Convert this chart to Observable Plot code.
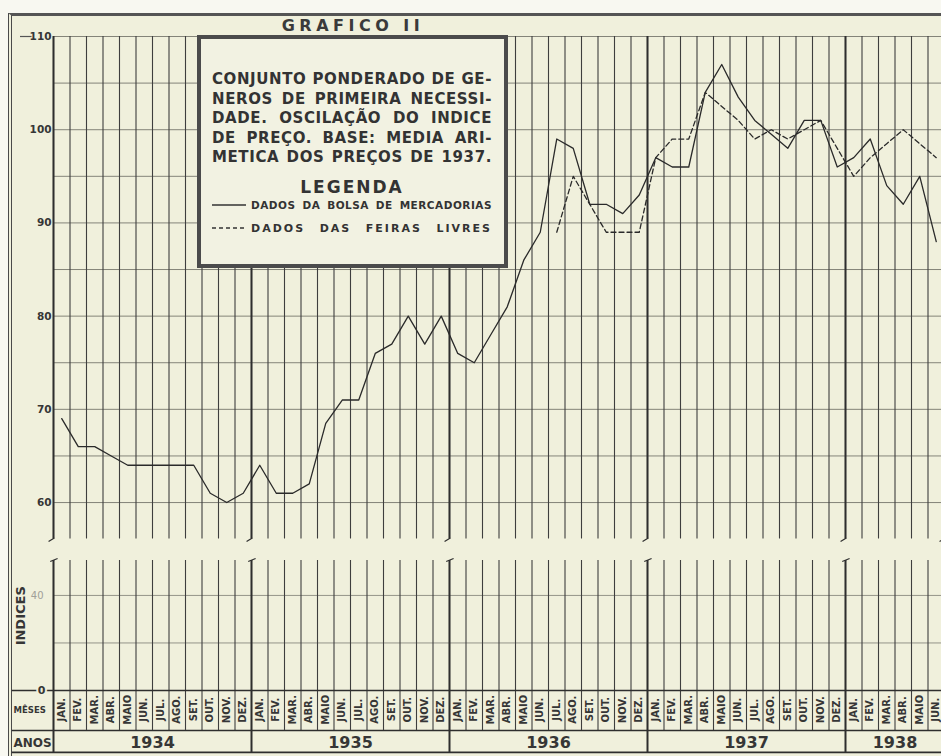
<!DOCTYPE html>
<html><head><meta charset="utf-8">
<script src="https://cdn.jsdelivr.net/npm/d3@7"></script>
<script src="https://cdn.jsdelivr.net/npm/@observablehq/plot@0.6"></script>
<style>
html,body{margin:0;padding:0;background:#f7f7ef;overflow:hidden;}
#wrap{position:relative;width:941px;height:756px;overflow:hidden;background:#f8f8f1;font-family:"DejaVu Sans",sans-serif;}
#frame{position:absolute;left:8px;top:13px;width:933px;height:743px;background:#f0f0dc;border-left:4px double #4a4a4a;border-top:3px solid #555;box-sizing:border-box;}
#chart{position:absolute;left:0;top:0;}
#chart svg{display:block;}
#title{position:absolute;left:253px;top:16px;width:200px;text-align:center;font:bold 16px "DejaVu Sans";letter-spacing:4.5px;color:#3a3a3a;line-height:20px;}
#legend{position:absolute;left:197px;top:35px;width:311px;height:233px;box-sizing:border-box;border:4px solid #4b4b4b;background:#f2f2e2;padding:31px 12px 0 11px;color:#333;}
#legend .p{font:bold 15px "DejaVu Sans";letter-spacing:0.6px;line-height:19.5px;height:19.5px;text-align:justify;text-align-last:justify;white-space:nowrap;}
#legend .lg{font:bold 17px "DejaVu Sans";letter-spacing:2px;text-align:center;line-height:20px;margin-top:9.5px;}
#legend .row{display:flex;align-items:center;height:16px;}
#legend .row svg{flex:none;margin-right:5px;}
#legend .row span{flex:1;text-align:justify;text-align-last:justify;font-weight:bold;white-space:nowrap;}
#legend .r1 span{font-size:10.5px;letter-spacing:0.5px;}
#legend .r2{margin-top:7px;}
#legend .r2 span{font-size:11px;letter-spacing:2px;}
g[aria-label="meses"] text{letter-spacing:1px;}
g[aria-label="indices"] text{letter-spacing:4px;}
</style></head><body>
<div id="wrap">
  <div id="frame"></div>
  <div id="chart"></div>
  <div id="title">GRAFICO II</div>
  <div id="legend">
    <div class="p">CONJUNTO PONDERADO DE GE-</div>
    <div class="p">NEROS DE PRIMEIRA NECESSI-</div>
    <div class="p">DADE. OSCILAÇÃO DO INDICE</div>
    <div class="p">DE PREÇO. BASE: MEDIA ARI-</div>
    <div class="p">METICA DOS PREÇOS DE 1937.</div>
    <div class="lg">LEGENDA</div>
    <div class="row r1"><svg width="34" height="4"><line x1="0" y1="2" x2="34" y2="2" stroke="#333" stroke-width="1.5"/></svg><span>DADOS DA BOLSA DE MERCADORIAS</span></div>
    <div class="row r2"><svg width="34" height="4"><line x1="0" y1="2" x2="34" y2="2" stroke="#333" stroke-width="1.5" stroke-dasharray="4,3"/></svg><span>DADOS DAS FEIRAS LIVRES</span></div>
  </div>
</div>
<script>
// ---- data ----
const meses = ["JAN.","FEV.","MAR.","ABR.","MAIO","JUN.","JUL.","AGO.","SET.","OUT.","NOV.","DEZ."];
const anos = [1934, 1935, 1936, 1937, 1938];
const mesesPorAno = [12, 12, 12, 12, 6];
// Dados da Bolsa de Mercadorias (jan. 1934 – jun. 1938)
const bolsa = [
  69, 66, 66, 65, 64, 64, 64, 64, 64, 61, 60, 61,
  64, 61, 61, 62, 68.5, 71, 71, 76, 77, 80, 77, 80,
  76, 75, 78, 81, 86, 89, 99, 98, 92, 92, 91, 93,
  97, 96, 96, 104, 107, 103.5, 101, 99.5, 98, 101, 101, 96,
  97, 99, 94, 92, 95, 88
];
// Dados das Feiras Livres (jul. 1936 – jun. 1938)
const feirasInicio = 30; // index of JUL. 1936
const feiras = [
  89, 95, 92, 89, 89, 89,
  97, 99, 99, 104, 102.5, 101, 99, 100, 99, 100, 101, 98,
  95, 97, 98.5, 100, 98.5, 97
];
const yTicksSup = [110, 100, 90, 80, 70, 60];
const yTicksInf = [40, 0];

// ---- derived tables ----
const starts = Array.from(d3.cumsum([0, ...mesesPorAno.slice(0, -1)]));
const months = [];
anos.forEach((a, k) => { for (let m = 0; m < mesesPorAno[k]; m++) months.push({i: months.length, mes: meses[m], ano: a}); });
const nMonths = months.length;
const yearData = anos.map((a, k) => ({ano: a, start: starts[k], n: mesesPorAno[k]}));
const bounds = d3.range(0, nMonths + 1);
const yearBounds = [...starts, nMonths];
const bolsaData = bolsa.map((v, i) => ({i, v}));
const feirasData = feiras.map((v, j) => ({i: j + feirasInicio, v}));

// layout constants (scale-space)
const SUP_LO = 56.1, SUP_HI = 110, INF_HI = 54.7;
const ROW_MES = -16.83, ROW_END = -26.1;
const ink = "#363636";

const chart = Plot.plot({
  width: 941, height: 756,
  marginLeft: 53, marginRight: 0, marginTop: 36, marginBottom: 0,
  style: {background: "transparent", fontFamily: "DejaVu Sans"},
  x: {type: "linear", domain: [0, nMonths], range: [53, 944], axis: null},
  y: {type: "linear", domain: [-27.8, 0, INF_HI, SUP_LO, SUP_HI], range: [756, 690, 560, 538.4, 36], axis: null},
  marks: [
    // horizontal grid
    Plot.ruleY(d3.range(60, 111, 5), {x1: 0, x2: nMonths, stroke: "#77776d", strokeWidth: 0.9}),
    Plot.ruleY([40, 20], {x1: 0, x2: nMonths, stroke: "#8a8a80", strokeWidth: 0.9}),
    Plot.ruleY([SUP_HI], {x1: -2, x2: -1.3, stroke: "#555", strokeWidth: 1.2}),
    // vertical month grid
    Plot.ruleX(bounds, {y1: SUP_LO, y2: SUP_HI, stroke: "#3e3e3e", strokeWidth: 1.1}),
    Plot.ruleX(bounds, {y1: 0, y2: INF_HI, stroke: "#3e3e3e", strokeWidth: 1.1}),
    Plot.ruleX(bounds, {y1: ROW_MES, y2: 0, stroke: "#3e3e3e", strokeWidth: 1.1}),
    // year boundaries
    Plot.ruleX(yearBounds, {y1: SUP_LO, y2: SUP_HI, stroke: "#2e2e2e", strokeWidth: 2}),
    Plot.ruleX(yearBounds, {y1: 0, y2: INF_HI, stroke: "#2e2e2e", strokeWidth: 2}),
    Plot.ruleX(yearBounds, {y1: ROW_END, y2: 0, stroke: "#2e2e2e", strokeWidth: 2}),
    // break marks
    Plot.link(yearBounds, {x1: d => d - 0.3, y1: 55.93, x2: d => d + 0.05, y2: 56.2, stroke: "#2e2e2e", strokeWidth: 1.2}),
    Plot.link(yearBounds, {x1: d => d - 0.2, y1: 54.3, x2: d => d + 0.25, y2: 54.83, stroke: "#2e2e2e", strokeWidth: 1.2}),
    // row separators
    Plot.ruleY([0, ROW_MES], {x1: -2.5, x2: nMonths, stroke: "#2e2e2e", strokeWidth: 1.4}),
    Plot.ruleY([ROW_END], {x1: -2.5, x2: nMonths, stroke: "#2e2e2e", strokeWidth: 1.8}),
    // data
    Plot.line(bolsaData, {x: d => d.i + 0.5, y: "v", stroke: "#2a2a2a", strokeWidth: 1.3}),
    Plot.line(feirasData, {x: d => d.i + 0.5, y: "v", stroke: "#2a2a2a", strokeWidth: 1.3, strokeDasharray: "5,3"}),
    // y labels
    Plot.text(yTicksSup, {y: d => d, frameAnchor: "left", dx: -2, textAnchor: "end", fontSize: 10.5, fontWeight: "bold", fill: ink}),
    Plot.text([yTicksInf[0]], {y: d => d, frameAnchor: "left", dx: -10, textAnchor: "end", fontSize: 10, fill: "#a0a098"}),
    Plot.text([yTicksInf[1]], {y: d => d, frameAnchor: "left", dx: -8, textAnchor: "end", fontSize: 11, fontWeight: "bold", fill: ink, stroke: "#f0f0dc", strokeWidth: 4}),
    Plot.text(["INDICES"], {y: 19, frameAnchor: "left", dx: -33, rotate: -90, fontSize: 13, fontWeight: "bold", fill: ink, ariaLabel: "indices"}),
    Plot.text(["MÊSES"], {y: -8.4, frameAnchor: "left", dx: -40, textAnchor: "start", fontSize: 8.5, fontWeight: "bold", fill: ink}),
    Plot.text(["ANOS"], {y: -22.1, frameAnchor: "left", dx: -40, textAnchor: "start", fontSize: 12, fontWeight: "bold", fill: ink}),
    // month labels
    Plot.text(months, {x: d => d.i + 0.5, y: -8.1, text: "mes", rotate: -90, fontSize: 10, fontWeight: "bold", fill: ink, ariaLabel: "meses"}),
    // year labels
    Plot.text(yearData, {x: d => d.start + d.n / 2, y: -22.2, text: d => String(d.ano), fontSize: 16, fontWeight: "bold", fill: ink})
  ]
});
document.getElementById("chart").appendChild(chart);
</script>
</body></html>
